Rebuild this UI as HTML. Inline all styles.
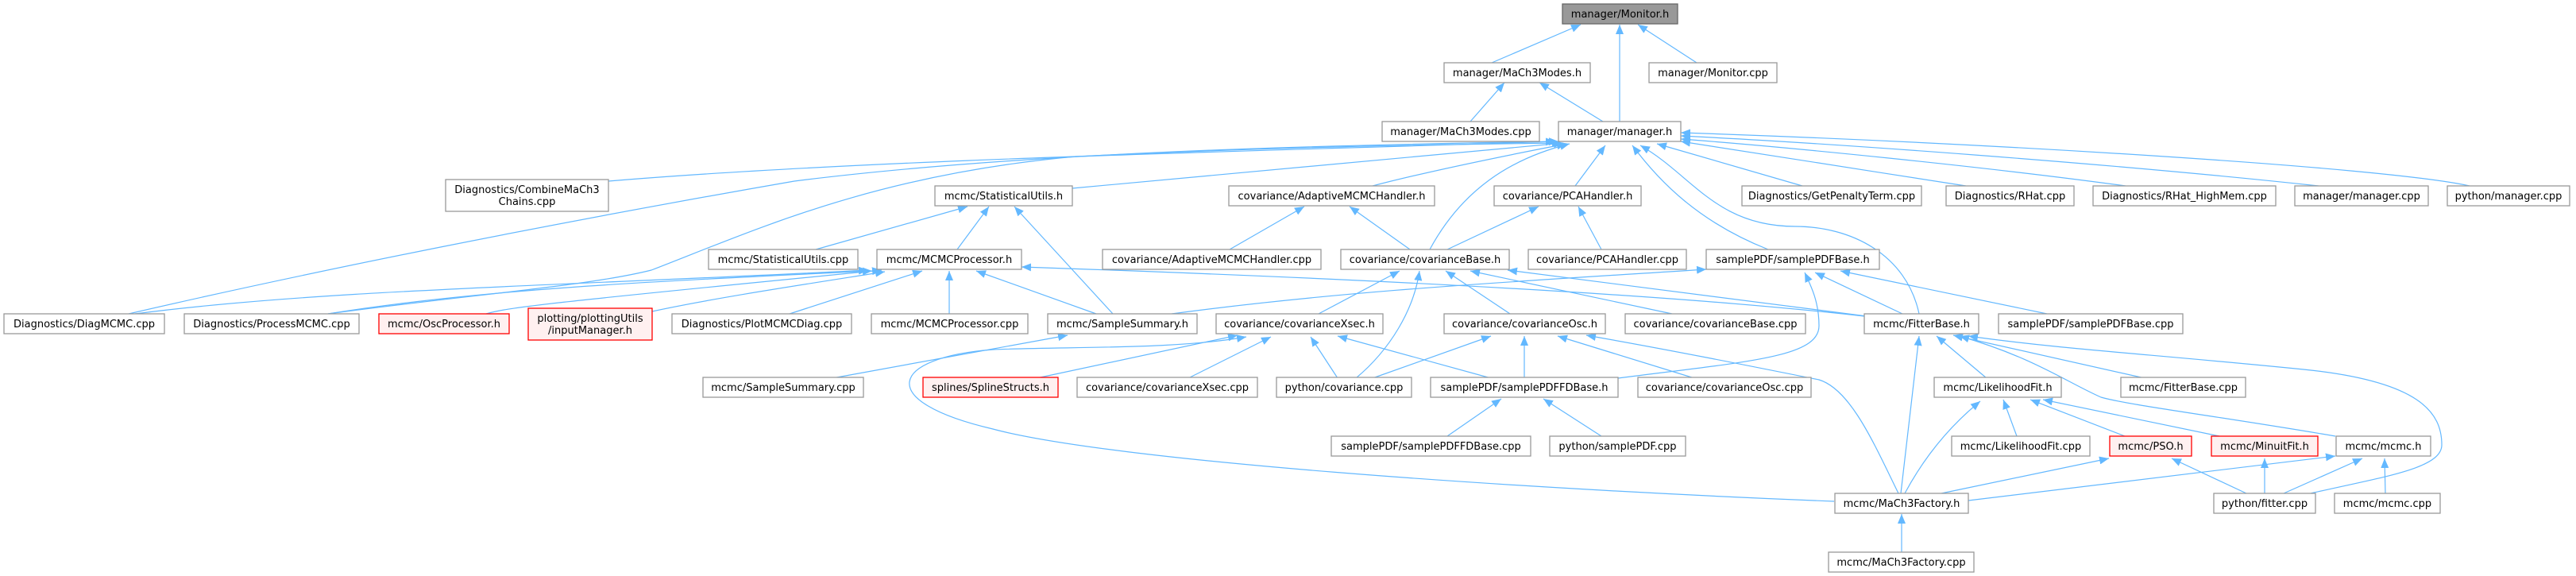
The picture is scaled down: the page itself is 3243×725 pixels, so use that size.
<!DOCTYPE html>
<html><head><meta charset="utf-8"><style>
html,body{margin:0;padding:0;background:#fff;}
svg{display:block;}
text{font-family:"DejaVu Sans","Liberation Sans",sans-serif;font-size:13px;fill:#000;text-anchor:middle;}
.n{fill:#fff;stroke:#999;stroke-width:1.3;}
.r{fill:#fff0f0;stroke:#ff0000;stroke-width:1.3;}
.g{fill:#999;stroke:#666;stroke-width:1.3;}
path.e{fill:none;stroke:#63b8ff;stroke-width:1.2;marker-end:url(#a);}
</style></head><body>
<svg width="3243" height="725" viewBox="0 0 3243 725" xmlns="http://www.w3.org/2000/svg">
<defs><marker id="a" markerUnits="userSpaceOnUse" markerWidth="14" markerHeight="12" refX="12" refY="5" orient="auto"><path d="M0,0 L12,5 L0,10 z" fill="#63b8ff"/></marker></defs>

<!-- edges -->
<path class="e" d="M1878,79 L1990,31"/>
<path class="e" d="M2039,153 L2039,31"/>
<path class="e" d="M2136,79 L2062,31"/>
<path class="e" d="M1851,153 L1894,104"/>
<path class="e" d="M2018,153 L1938,104"/>
<path class="e" d="M766,228 C1100,200 1600,190 1958,178"/>
<path class="e" d="M162,395 C400,340 700,280 1000,228 C1300,190 1700,182 1962,178"/>
<path class="e" d="M413,395 C600,370 740,360 820,340 C950,290 1100,220 1354,197 C1600,185 1800,182 1966,180"/>
<path class="e" d="M1350,237 C1600,215 1800,195 1968,180"/>
<path class="e" d="M1728,234 C1800,215 1900,195 1972,181"/>
<path class="e" d="M1800,314 C1840,240 1900,200 1976,181"/>
<path class="e" d="M1983,234 L2021,183"/>
<path class="e" d="M2226,314 C2140,280 2090,230 2055,183"/>
<path class="e" d="M2416,395 C2400,320 2330,285 2260,285 C2160,285 2130,220 2065,183"/>
<path class="e" d="M2269,234 L2086,181"/>
<path class="e" d="M2475,234 C2350,215 2200,190 2116,178"/>
<path class="e" d="M2676,234 C2500,210 2250,185 2116,175"/>
<path class="e" d="M2919,234 C2650,205 2300,180 2116,171"/>
<path class="e" d="M3109,234 C3000,210 2500,180 2116,167"/>
<path class="e" d="M1027,314 L1218,260"/>
<path class="e" d="M1205,314 L1245,260"/>
<path class="e" d="M1401,395 L1277,260"/>
<path class="e" d="M170,395 C400,365 700,360 1093,340"/>
<path class="e" d="M413,395 C600,365 800,355 1098,341"/>
<path class="e" d="M612,395 C640,387 680,382 1110,340"/>
<path class="e" d="M821,392 C900,375 1000,360 1114,342"/>
<path class="e" d="M994,395 L1161,341"/>
<path class="e" d="M1195,395 L1195,341"/>
<path class="e" d="M1380,395 L1229,341"/>
<path class="e" d="M2347,398 C2100,370 1700,350 1286,336"/>
<path class="e" d="M1548,314 L1642,260"/>
<path class="e" d="M1775,314 L1699,260"/>
<path class="e" d="M1822,314 L1937,260"/>
<path class="e" d="M2016,314 L1987,260"/>
<path class="e" d="M1660,395 L1762,341"/>
<path class="e" d="M1707,476 C1750,440 1780,390 1787,341"/>
<path class="e" d="M1901,395 L1820,341"/>
<path class="e" d="M2105,395 L1851,341"/>
<path class="e" d="M2350,398 L1898,340"/>
<path class="e" d="M1475,395 C1700,365 1900,355 2148,339"/>
<path class="e" d="M2037,476 C2200,455 2290,450 2290,410 C2290,380 2280,360 2272,343"/>
<path class="e" d="M2395,395 L2285,343"/>
<path class="e" d="M2577,395 L2317,341"/>
<path class="e" d="M1305,476 L1558,422"/>
<path class="e" d="M1496,476 L1600,424"/>
<path class="e" d="M1684,476 L1650,424"/>
<path class="e" d="M1877,476 L1684,423"/>
<path class="e" d="M1048,476 L1344,422"/>
<path class="e" d="M2309,631 C1900,615 1400,580 1250,540 C1100,505 1120,450 1250,440 C1350,436 1480,440 1569,424"/>
<path class="e" d="M1728,476 L1877,423"/>
<path class="e" d="M1919,476 L1919,423"/>
<path class="e" d="M2133,476 L1961,423"/>
<path class="e" d="M2390,621 C2360,560 2330,490 2290,478 C2200,460 2100,440 1997,422"/>
<path class="e" d="M1822,549 L1890,502"/>
<path class="e" d="M2016,549 L1943,502"/>
<path class="e" d="M2501,476 L2438,423"/>
<path class="e" d="M2393,621 L2416,423"/>
<path class="e" d="M2700,476 L2459,422"/>
<path class="e" d="M2940,549 C2800,525 2680,510 2645,500 C2600,480 2560,450 2467,423"/>
<path class="e" d="M2909,621 C3000,600 3074,590 3074,560 C3074,520 3048,480 2900,465 C2700,445 2600,440 2478,423"/>
<path class="e" d="M2398,621 C2420,580 2450,540 2493,505"/>
<path class="e" d="M2539,549 L2522,503"/>
<path class="e" d="M2675,549 L2556,503"/>
<path class="e" d="M2794,549 L2572,503"/>
<path class="e" d="M2444,621 L2655,577"/>
<path class="e" d="M2828,621 L2734,577"/>
<path class="e" d="M2851,621 L2851,577"/>
<path class="e" d="M2478,630 L2940,574"/>
<path class="e" d="M2875,621 L2974,577"/>
<path class="e" d="M3003,621 L3002,577"/>
<path class="e" d="M2394,695 L2394,647"/>

<!-- nodes -->
<rect class="g" x="1967" y="5" width="145" height="25"/><text x="2039.5" y="22">manager/Monitor.h</text>
<rect class="n" x="1818" y="79" width="184" height="25"/><text x="1910" y="96">manager/MaCh3Modes.h</text>
<rect class="n" x="2076" y="79" width="161" height="25"/><text x="2156.5" y="96">manager/Monitor.cpp</text>
<rect class="n" x="1740" y="153" width="198" height="25"/><text x="1839" y="170">manager/MaCh3Modes.cpp</text>
<rect class="n" x="1962" y="153" width="154" height="25"/><text x="2039" y="170">manager/manager.h</text>

<rect class="n" x="561" y="226" width="205" height="40"/><text x="663.5" y="243">Diagnostics/CombineMaCh3</text><text x="663.5" y="258">Chains.cpp</text>
<rect class="n" x="1177" y="234" width="173" height="25"/><text x="1263.5" y="251">mcmc/StatisticalUtils.h</text>
<rect class="n" x="1547" y="234" width="259" height="25"/><text x="1676.5" y="251">covariance/AdaptiveMCMCHandler.h</text>
<rect class="n" x="1881" y="234" width="185" height="25"/><text x="1973.5" y="251">covariance/PCAHandler.h</text>
<rect class="n" x="2193" y="234" width="226" height="25"/><text x="2306" y="251">Diagnostics/GetPenaltyTerm.cpp</text>
<rect class="n" x="2450" y="234" width="161" height="25"/><text x="2530.5" y="251">Diagnostics/RHat.cpp</text>
<rect class="n" x="2635" y="234" width="230" height="25"/><text x="2750" y="251">Diagnostics/RHat_HighMem.cpp</text>
<rect class="n" x="2889" y="234" width="168" height="25"/><text x="2973" y="251">manager/manager.cpp</text>
<rect class="n" x="3081" y="234" width="154" height="25"/><text x="3158" y="251">python/manager.cpp</text>

<rect class="n" x="892" y="314" width="188" height="25"/><text x="986" y="331">mcmc/StatisticalUtils.cpp</text>
<rect class="n" x="1104" y="314" width="182" height="25"/><text x="1195" y="331">mcmc/MCMCProcessor.h</text>
<rect class="n" x="1388" y="314" width="275" height="25"/><text x="1525.5" y="331">covariance/AdaptiveMCMCHandler.cpp</text>
<rect class="n" x="1688" y="314" width="212" height="25"/><text x="1794" y="331">covariance/covarianceBase.h</text>
<rect class="n" x="1924" y="314" width="199" height="25"/><text x="2023.5" y="331">covariance/PCAHandler.cpp</text>
<rect class="n" x="2148" y="314" width="218" height="25"/><text x="2257" y="331">samplePDF/samplePDFBase.h</text>

<rect class="n" x="5" y="395" width="202" height="25"/><text x="106" y="412">Diagnostics/DiagMCMC.cpp</text>
<rect class="n" x="232" y="395" width="220" height="25"/><text x="342" y="412">Diagnostics/ProcessMCMC.cpp</text>
<rect class="r" x="477" y="395" width="164" height="25"/><text x="559" y="412">mcmc/OscProcessor.h</text>
<rect class="r" x="665" y="388" width="156" height="40"/><text x="743" y="405">plotting/plottingUtils</text><text x="743" y="420">/inputManager.h</text>
<rect class="n" x="846" y="395" width="226" height="25"/><text x="959" y="412">Diagnostics/PlotMCMCDiag.cpp</text>
<rect class="n" x="1097" y="395" width="197" height="25"/><text x="1195.5" y="412">mcmc/MCMCProcessor.cpp</text>
<rect class="n" x="1319" y="395" width="188" height="25"/><text x="1413" y="412">mcmc/SampleSummary.h</text>
<rect class="n" x="1531" y="395" width="210" height="25"/><text x="1636" y="412">covariance/covarianceXsec.h</text>
<rect class="n" x="1818" y="395" width="203" height="25"/><text x="1919.5" y="412">covariance/covarianceOsc.h</text>
<rect class="n" x="2046" y="395" width="227" height="25"/><text x="2159.5" y="412">covariance/covarianceBase.cpp</text>
<rect class="n" x="2347" y="395" width="144" height="25"/><text x="2419" y="412">mcmc/FitterBase.h</text>
<rect class="n" x="2516" y="395" width="232" height="25"/><text x="2632" y="412">samplePDF/samplePDFBase.cpp</text>

<rect class="n" x="885" y="475" width="202" height="25"/><text x="986" y="492">mcmc/SampleSummary.cpp</text>
<rect class="r" x="1162" y="475" width="170" height="25"/><text x="1247" y="492">splines/SplineStructs.h</text>
<rect class="n" x="1356" y="475" width="227" height="25"/><text x="1469.5" y="492">covariance/covarianceXsec.cpp</text>
<rect class="n" x="1607" y="475" width="170" height="25"/><text x="1692" y="492">python/covariance.cpp</text>
<rect class="n" x="1801" y="475" width="236" height="25"/><text x="1919" y="492">samplePDF/samplePDFFDBase.h</text>
<rect class="n" x="2062" y="475" width="218" height="25"/><text x="2171" y="492">covariance/covarianceOsc.cpp</text>
<rect class="n" x="2435" y="475" width="160" height="25"/><text x="2515" y="492">mcmc/LikelihoodFit.h</text>
<rect class="n" x="2670" y="475" width="157" height="25"/><text x="2748.5" y="492">mcmc/FitterBase.cpp</text>

<rect class="n" x="1676" y="549" width="251" height="25"/><text x="1801.5" y="566">samplePDF/samplePDFFDBase.cpp</text>
<rect class="n" x="1951" y="549" width="171" height="25"/><text x="2036.5" y="566">python/samplePDF.cpp</text>
<rect class="n" x="2457" y="549" width="174" height="25"/><text x="2544" y="566">mcmc/LikelihoodFit.cpp</text>
<rect class="r" x="2656" y="549" width="103" height="25"/><text x="2707.5" y="566">mcmc/PSO.h</text>
<rect class="r" x="2784" y="549" width="134" height="25"/><text x="2851" y="566">mcmc/MinuitFit.h</text>
<rect class="n" x="2941" y="549" width="119" height="25"/><text x="3000.5" y="566">mcmc/mcmc.h</text>

<rect class="n" x="2310" y="621" width="168" height="25"/><text x="2394" y="638">mcmc/MaCh3Factory.h</text>
<rect class="n" x="2787" y="621" width="128" height="25"/><text x="2851" y="638">python/fitter.cpp</text>
<rect class="n" x="2939" y="621" width="133" height="25"/><text x="3005.5" y="638">mcmc/mcmc.cpp</text>

<rect class="n" x="2302" y="695" width="183" height="25"/><text x="2393.5" y="712">mcmc/MaCh3Factory.cpp</text>
</svg>
</body></html>
